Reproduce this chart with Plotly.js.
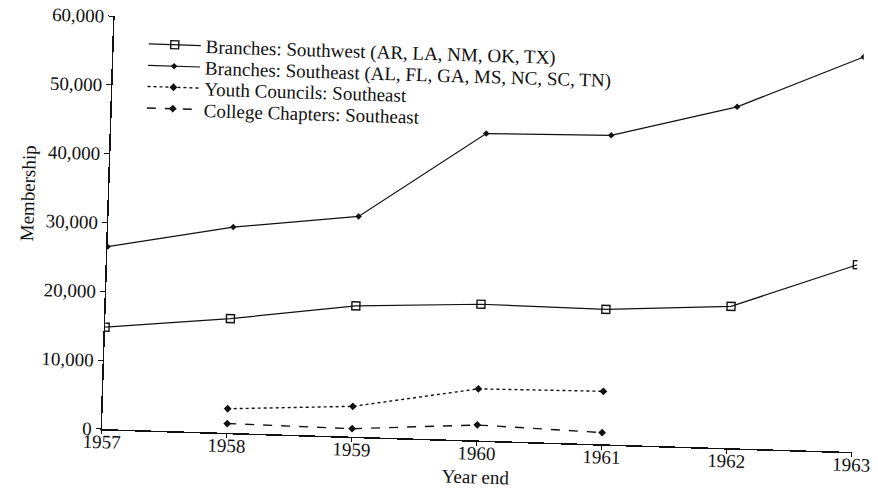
<!DOCTYPE html>
<html>
<head>
<meta charset="utf-8">
<script src="https://cdn.plot.ly/plotly-3.0.1.min.js"></script>
<style>
  html, body { margin: 0; padding: 0; background: #fff; overflow: hidden; }
  #chart { width: 878px; height: 493px; transform: rotate(1.75deg); transform-origin: 102px 429px; }
</style>
</head>
<body>
<div id="chart"></div>
<script>
const years = [1957, 1958, 1959, 1960, 1961, 1962, 1963];
const southwestBranches = [14800, 16600, 19000, 19800, 19600, 20600, 27200];
const southeastBranches = [26500, 29900, 32000, 44600, 44900, 49600, 57400];
const youthYears = [1958, 1959, 1960, 1961];
const youthCouncils = [3500, 4400, 7500, 7700];
const collegeYears = [1958, 1959, 1960, 1961];
const collegeChapters = [1350, 1150, 2250, 1700];
const seriesNames = [
  'Branches: Southwest (AR, LA, NM, OK, TX)',
  'Branches: Southeast (AL, FL, GA, MS, NC, SC, TN)',
  'Youth Councils: Southeast',
  'College Chapters: Southeast'
];
const yTicks = [0, 10000, 20000, 30000, 40000, 50000, 60000];
const xTitle = 'Year end';
const yTitle = 'Membership';

const ink = '#111';
const fontFam = '"Liberation Serif", "Times New Roman", serif';
const f19 = {family: fontFam, size: 19, color: ink};

const traces = [
  {x: years, y: southwestBranches, name: seriesNames[0], mode: 'lines+markers', legend: 'legend',
   line: {color: ink, width: 1.2}, marker: {symbol: 'square-open', size: 8, color: ink, line: {width: 1.4}}},
  {x: years, y: southeastBranches, name: seriesNames[1], mode: 'lines+markers', legend: 'legend2',
   line: {color: ink, width: 1.2}, marker: {symbol: 'diamond', size: 5, color: ink}},
  {x: youthYears, y: youthCouncils, name: seriesNames[2], mode: 'lines+markers', legend: 'legend3',
   line: {color: ink, width: 1.4, dash: 'dot'}, marker: {symbol: 'diamond', size: 6, color: ink}},
  {x: collegeYears, y: collegeChapters, name: seriesNames[3], mode: 'lines+markers', legend: 'legend4',
   line: {color: ink, width: 1.4, dash: 'dash'}, marker: {symbol: 'diamond', size: 6, color: ink}}
];

function leg(y) {
  return {x: 0.04, y: y, xanchor: 'left', yanchor: 'top', bgcolor: 'rgba(0,0,0,0)',
          font: f19, itemwidth: 52};
}

const layout = {
  width: 878, height: 493,
  margin: {l: 102, r: 26, t: 16, b: 64, pad: 0},
  paper_bgcolor: '#fff', plot_bgcolor: '#fff',
  font: f19,
  showlegend: true,
  legend: leg(0.981),
  legend2: leg(0.929),
  legend3: leg(0.878),
  legend4: leg(0.826),
  xaxis: {range: [1957, 1963], tickvals: years, ticktext: years.map(String),
          showline: true, linecolor: ink, linewidth: 1.5, showgrid: false, zeroline: false,
          ticks: 'outside', ticklen: 4, tickcolor: ink, ticklabelstandoff: -9, tickfont: f19},
  yaxis: {range: [0, 60000], tickvals: yTicks, tickformat: ',d',
          showline: true, linecolor: ink, linewidth: 1.5, showgrid: false, zeroline: false,
          ticks: 'outside', ticklen: 5, tickcolor: ink, tickfont: f19},
  annotations: [
    {text: xTitle, xref: 'paper', yref: 'paper', x: 0.5, y: 0, xanchor: 'center', yanchor: 'middle',
     yshift: -36, showarrow: false, font: f19},
    {text: yTitle, xref: 'paper', yref: 'paper', x: -0.108, y: 0.565, xanchor: 'center', yanchor: 'middle',
     textangle: -90, showarrow: false, font: f19}
  ]
};

Plotly.newPlot('chart', traces, layout, {displayModeBar: false, staticPlot: true});
</script>
</body>
</html>
